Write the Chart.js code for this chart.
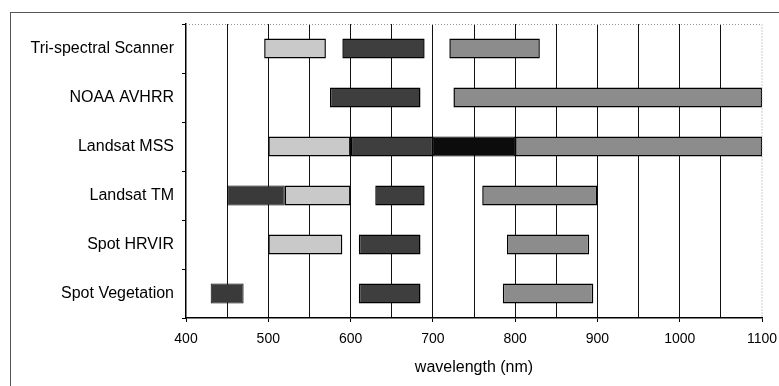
<!DOCTYPE html>
<html>
<head>
<meta charset="utf-8">
<script src="https://cdn.jsdelivr.net/npm/chart.js@4"></script>
<style>
  html, body { margin: 0; padding: 0; background: #fff; }
  #wrap { width: 779px; height: 386px; }
</style>
</head>
<body>
<div id="wrap"><canvas id="bandChart"></canvas></div>
<script>
// sensors, top to bottom
const sensors = ['Tri-spectral Scanner', 'NOAA AVHRR', 'Landsat MSS', 'Landsat TM', 'Spot HRVIR', 'Spot Vegetation'];

// spectral bands as [start, end] wavelength (nm) per sensor, null = no band
const blueBand  = [null, null, null, [450, 520], null, [430, 470]];
const greenBand = [[495, 570], null, [500, 600], [520, 600], [500, 590], null];
const redBand   = [[590, 690], [575, 685], [600, 700], [630, 690], [610, 685], [610, 685]];
const redEdge   = [null, null, [700, 800], null, null, null];
const nirBand   = [[720, 830], [725, 1100], [800, 1100], [760, 900], [790, 890], [785, 895]];

const xTicks = [400, 500, 600, 700, 800, 900, 1000, 1100];

const fam = 'Liberation Sans, Arial, sans-serif';

function band(label, data, fill, bw) {
  return {
    label: label,
    data: data,
    backgroundColor: fill,
    borderColor: '#000',
    borderWidth: bw,
    borderSkipped: false,
    barPercentage: 0.41,
    categoryPercentage: 1,
    grouped: false
  };
}

// dotted plot frame on top/right + outer frame
const framePlugin = {
  id: 'frames',
  beforeDraw(chart) {
    const c = chart.ctx;
    c.save();
    c.strokeStyle = '#555';
    c.lineWidth = 1;
    c.strokeRect(10.5, 12.5, 800, 400);
    c.restore();
  },
  afterDatasetsDraw(chart) {
    const a = chart.chartArea;
    const c = chart.ctx;
    c.save();
    c.strokeStyle = '#999';
    c.lineWidth = 1;
    c.setLineDash([1, 2]);
    c.beginPath();
    c.moveTo(a.left, Math.round(a.top) + 0.5);
    c.lineTo(a.right, Math.round(a.top) + 0.5);
    c.lineTo(a.right, a.bottom);
    c.stroke();
    c.restore();
  }
};

new Chart(document.getElementById('bandChart'), {
  type: 'bar',
  data: {
    labels: sensors,
    datasets: [
      band('blue', blueBand, '#3a3a3a', 1),
      band('green', greenBand, '#c9c9c9', 1.5),
      band('red', redBand, '#3e3e3e', 1.5),
      band('red edge', redEdge, '#0c0c0c', 1),
      band('nir', nirBand, '#8c8c8c', 1.5)
    ]
  },
  plugins: [framePlugin],
  options: {
    indexAxis: 'y',
    responsive: true,
    maintainAspectRatio: false,
    animation: false,
    layout: { padding: { top: 24, right: 17, left: 0, bottom: 0 } },
    plugins: {
      legend: { display: false },
      tooltip: { enabled: false }
    },
    scales: {
      x: {
        type: 'linear',
        min: 400,
        max: 1100,
        afterBuildTicks(scale) {
          const t = [];
          for (let v = 400; v <= 1100; v += 50) t.push({ value: v });
          scale.ticks = t;
        },
        afterFit(scale) {
          scale.height = 68;
          scale.paddingLeft = 0;
          scale.paddingRight = 0;
        },
        ticks: {
          color: '#000',
          font: { family: fam, size: 14 },
          padding: 9,
          maxRotation: 0,
          autoSkip: false,
          callback: v => xTicks.includes(v) ? String(v) : ''
        },
        grid: {
          color: c => (c.tick && (c.tick.value === 1100 || c.tick.value === 400)) ? 'rgba(0,0,0,0)' : '#111',
          lineWidth: 1,
          tickLength: 4,
          tickColor: c => (c.tick && c.tick.value % 100 === 0) ? '#000' : 'rgba(0,0,0,0)',
          z: -1
        },
        border: { color: '#000', width: 1.5 },
        title: {
          display: true,
          text: 'wavelength (nm)',
          color: '#000',
          font: { family: fam, size: 16 },
          padding: { top: 6, bottom: 9 }
        }
      },
      y: {
        afterFit(scale) { scale.width = 186; },
        ticks: { color: '#000', font: { family: fam, size: 16 }, padding: 8 },
        grid: {
          offset: true,
          drawOnChartArea: false,
          tickLength: 4,
          tickColor: '#000'
        },
        border: { color: '#000', width: 1.5 }
      }
    }
  }
});
</script>
</body>
</html>
